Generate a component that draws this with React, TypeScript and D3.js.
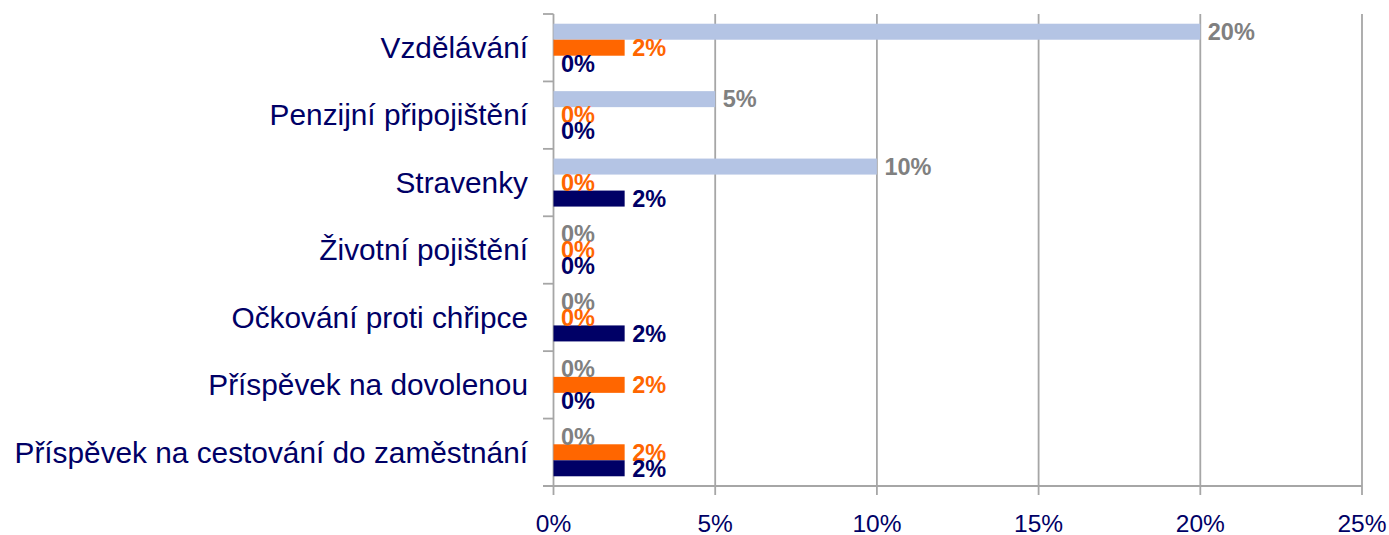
import React from "react";
import * as d3 from "d3";

const categories = [
  "Vzdělávání",
  "Penzijní připojištění",
  "Stravenky",
  "Životní pojištění",
  "Očkování proti chřipce",
  "Příspěvek na dovolenou",
  "Příspěvek na cestování do zaměstnání",
];
const seriesNames = ["A", "B", "C"];
const seriesA = [20, 5, 10, 0, 0, 0, 0];
const seriesB = [2.2, 0, 0, 0, 0, 2.2, 2.2];
const seriesC = [0, 0, 2.2, 0, 2.2, 0, 2.2];
const xTicks = [0, 5, 10, 15, 20, 25];

const barColors = ["#B4C4E4", "#FF6600", "#000066"];
const labelColors = ["#808080", "#FF6600", "#000066"];
const navy = "#000066";
const gridColor = "#A6A6A6";

export default function App() {
  const W = 1389;
  const H = 535;
  const x = d3.scaleLinear().domain([0, 25]).range([553.5, 1362]);
  const y = d3.scaleBand<string>().domain(categories).range([14, 486]).paddingInner(0).paddingOuter(0);
  const bw = y.bandwidth();
  const barH = 16;
  const pad = (bw - barH * 3) / 2;
  const ys = d3.scaleBand<string>().domain(seriesNames).range([pad, bw - pad]);
  const data = [seriesA, seriesB, seriesC];
  const fmt = (v: number) => d3.format(".0f")(v) + "%";
  const font = "'Liberation Sans', Arial, sans-serif";
  const boundaries = categories.map((c) => y(c) as number).concat([y.range()[1]]);
  const catFs = 29.8;
  const lblFs = 23.5;

  return (
    <svg width={W} height={H} style={{ position: "absolute", left: 0, top: 0, background: "#fff" }} fontFamily={font}>
      {xTicks.slice(1).map((t) => (
        <line key={"g" + t} x1={x(t)} x2={x(t)} y1={14} y2={486} stroke={gridColor} strokeWidth={1.8} />
      ))}
      <line x1={x(0)} x2={x(0)} y1={14} y2={486} stroke={gridColor} strokeWidth={1.8} />
      {boundaries.map((b, i) => (
        <line key={"lt" + i} x1={543} x2={x(0)} y1={b} y2={b} stroke={gridColor} strokeWidth={1.8} />
      ))}
      <line x1={543} x2={x(25)} y1={486} y2={486} stroke={gridColor} strokeWidth={1.8} />
      {xTicks.map((t) => (
        <line key={"bt" + t} x1={x(t)} x2={x(t)} y1={486} y2={495} stroke={gridColor} strokeWidth={1.8} />
      ))}
      {xTicks.map((t) => (
        <text key={"tl" + t} x={x(t)} y={532} textAnchor="middle" fontSize={24.5} fill={navy}>
          {fmt(t)}
        </text>
      ))}
      {categories.map((c) => (
        <text
          key={"c" + c}
          x={528}
          y={(y(c) as number) + bw / 2 + catFs * 0.345}
          textAnchor="end"
          fontSize={catFs}
          fill={navy}
        >
          {c}
        </text>
      ))}
      {data.map((arr, si) =>
        arr.map((v, ci) => (
          <rect
            key={"b" + si + "-" + ci}
            x={x(0)}
            y={(y(categories[ci]) as number) + (ys(seriesNames[si]) as number)}
            width={x(v) - x(0)}
            height={ys.bandwidth()}
            fill={barColors[si]}
          />
        ))
      )}
      {data.map((arr, si) =>
        arr.map((v, ci) => (
          <text
            key={"l" + si + "-" + ci}
            x={x(v) + 7.5}
            y={(y(categories[ci]) as number) + (ys(seriesNames[si]) as number) + ys.bandwidth() / 2 + lblFs * 0.35}
            fontSize={lblFs}
            fontWeight="bold"
            fill={labelColors[si]}
          >
            {fmt(v)}
          </text>
        ))
      )}
    </svg>
  );
}
